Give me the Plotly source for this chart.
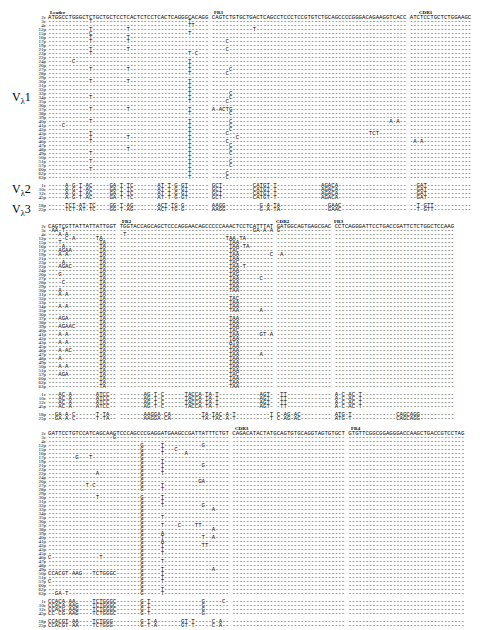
import plotly.graph_objects as go

# row names (same order in every block)
rows = ["2c", "3c", "4c", "12p", "15p", "16p", "17p", "19p", "21p", "23p", "22p", "24p",
        "26p", "27p", "28p", "29p", "30p", "31p", "32p", "33p", "34p", "35p", "36p",
        "37p", "38p", "39p", "40p", "41p", "42p", "43p", "45p", "46p", "47p", "48p",
        "49p", "50p", "51p", "57p", "60p", "62p", "63p", "", "1c", "10c", "12c", "45p",
        "", "18p", "25p"]

# consensus lines of each block
ref1 = ("ATGGCCTGGGCTCTGCTGCTCCTCACTCTCCTCACTCAGGGCACAGG CAGTCTGTGCTGACTCAGCCTCCCTCCGTGTCTGCAGCCCCGGGACAGAAGGTCACC ATCTCCTGCTCTGGAAGC")
ref2 = ("CAGTCGTTATTATTATTGGT TGGTACCAGCAGCTCCCAGGAACAGCCCCCAAACTCCTCATTTAT GATGGCAGTGAGCGAC CCTCAGGGATTCCTGACCGATTCTCTGGCTCCAAG")
ref3 = ("GATTCCTGTCCATCAGCAAGTCCCAGCCCGAGGATGAAGCCGATTATTTCTGT CAGACATACTATGCAGTGTGCAGGTAGTGTGCT GTGTTCGGCGGAGGGACCAAGCTGACCGTCCTAG")
refs = [ref1, ref2, ref3]

# substitutions per row: "column:letters"
muts1 = ["", "12:T 41:T", "41:TT", "12:T 23:T 60:T", "12:C 41:T", "12:T 23:T", "12:T 23:T 52:C",
         "", "12:T 23:T 52:C", "12:T 41:T 43:C", "", "7:C 41:T", "41:T", "12:T 23:T 41:T 53:C",
         "41:T 52:C", "", "12:T 23:T 41:T", "41:T", "41:T", "41:T 53:C", "12:T 41:T 53:C",
         "41:T 52:C", "", "12:T 23:T 41:T 48:A-ACTG", "41:T 53:C", "", "12:T 41:T 53:C 100:A-A",
         "4:C 41:T 53:C", "41:T 53:C", "12:T 41:T 52:C 94:TCT", "12:T 23:T 41:T 55:C",
         "12:T 41:T 52:C 105:C-A-A", "41:T 53:C", "23:T 41:T 53:C", "12:T 41:T 53:C", "41:T",
         "12:T 41:T 53:C", "41:T 53:C", "12:T 41:T", "41:T 52:C", "41:T 52:C", "",
         "5:A-G-T-AC 18:GA-T-TC 32:AT-T-G-GT 48:GCT 60:CATGT-T 80:AGACA 108:GAT",
         "5:A-G-T-AC 18:GA-T-TC 32:AT-T-G-GT 48:GCT 60:CATGT-T 80:AGACA 108:GAT",
         "5:A-G-T-AC 18:GA-T-TC 32:AT-T-G-GT 48:GCT 60:CATGT-T 80:AGACA 108:GAT",
         "5:A-G-T-AC 18:GA-T-TC 32:AT-T-G-GT 48:GCT 60:CATGT-T 80:AGACA 108:GAT", "",
         "5:TCT-AT-TC 18:GG-T-AG 32:ACT-TG-G 48:AAGG 62:G-A-TA 82:GAAC 108:T-GTT",
         "5:TCT-AT-TC 18:GG-T-AG 32:ACT-TG-G 48:AAGG 62:G-A-TA 82:GAAC 108:T-GTT"]
muts2 = ["", "1:AA-T 60:GA-A-AGG", "3:A-A 22:T", "5:C-A 14:TA 52:TAA-TA", "3:T 15:TA 53:TAA",
         "4:A 15:TA 53:TAA-TA", "3:AGAA 15:TA 53:TAC", "3:A-A 15:TA 53:TAA 65:CT-A", "15:TA 53:TAA",
         "4:A 15:TA 53:TAC", "3:AGAC 15:TA 53:TAA-T", "15:TA 53:TAA", "3:G 15:TA 53:TAG",
         "15:TA 53:TAA 62:C", "4:C 15:TA 53:TAA", "15:TA 53:TAA", "3:A 15:TA 53:TAA", "3:A-A 15:TA",
         "15:TA 53:TAC", "15:TA 53:TAA", "3:A-A 15:TA 53:TAA", "15:TA 53:TAA 62:A", "15:TA",
         "3:AGA 15:TA 53:TAA", "15:TA 53:TAA", "3:AGAAC 15:TA 53:TAA", "15:TA 53:TAC",
         "3:A-A 15:TA 53:TAA 62:GT-A", "15:TA 53:TAA", "3:A-A 15:TA 53:ATA", "15:TA 53:TAA",
         "3:A-AC 15:TA 53:TAA", "15:TA 53:TAA 62:A", "3:A 15:TA 53:TAA", "15:TA 53:TAA",
         "3:A-A 15:TA 53:TAA", "15:TA 53:TAA", "3:AGA 15:TA 53:TAC", "15:TA 53:TAA",
         "15:TA 53:TAA", "15:TA 53:TAA", "",
         "3:AC-A 14:ATCC 28:AG-T-C 40:TACCA-TA-T 62:AGT-A-TT 84:A-C-AC-T",
         "3:AC-A 14:ATCC 28:AG-T-C 40:TACCA-TA-T 62:AGT-A-TT 84:A-C-AC-T",
         "3:AC-A 14:ATCC 28:AG-T-C 40:TACCA-TA-T 62:AGT-A-TT 84:A-C-AC-T",
         "3:AC-A 14:ATCC 28:AG-T-C 40:TACCA-TA-T 62:AGT-A-TT 84:A-C-AC-T", "",
         "2:GA-A-C 14:T-TA 28:AAGGA-CA 45:TA-TAC-A-T 65:TAC-AG-AC 84:ATG-T 102:CAGCAGG",
         "2:GA-A-C 14:T-TA 28:AAGGA-CA 45:TA-TAC-A-T 65:TAC-AG-AC 84:ATG-T 102:CAGCAGG"]
muts3 = ["", "19:G", "", "27:G 33:T 45:G", "27:G 33:T 37:C", "27:G 33:T 40:A", "8:G 12:T 27:G",
         "27:G 33:T", "27:G 33:T 45:G", "27:G 33:T", "14:A 27:G 33:T", "27:G", "27:G 44:GA",
         "11:T-C 27:G 33:T", "27:G 33:T", "", "14:T 27:G 33:T", "27:G 33:T", "27:G 33:T 45:G",
         "27:G 48:A", "27:G", "27:G 33:T", "27:G", "27:G 33:T 38:C 43:TT", "27:G 48:A",
         "27:G 33:A", "27:G 33:T 45:T 48:A", "27:G 33:A", "27:G 33:T 45:TT", "27:G 33:T",
         "27:G 33:T", "0:C 15:T 27:G", "27:G 33:T", "27:G", "27:G 33:T 48:A",
         "0:CCACGT-AAG 13:TCTGGGC 27:G 33:T", "27:G 33:T", "0:C 27:G 33:T", "27:G", "27:G 33:T",
         "2:GA-T 27:G 33:T", "",
         "0:CCACA-AA 13:TCTGGGC 27:G-T 45:G 51:C", "0:CCACA-AAG 13:TCTGGGC 27:G-T 45:G",
         "0:CCACG-AAG 13:TCTGGGC 27:G-T 45:G", "0:CC-CG-AAG 13:TCTGGGC 27:G-T 45:G", "",
         "0:CCACGT-AA 13:TCTGGG 27:G-T-A 39:GT-T 48:C-A",
         "0:CCACGT-AA 13:TCTGGG 27:G-T-A 39:GT-T 48:C-A"]
muts = [muts1, muts2, muts3]

headers = [[("Leader", 0), ("FR1", 48), ("CDR1", 108)],
           [("FR2", 21), ("CDR2", 66), ("FR3", 83)],
           [("CDR3", 54), ("FR4", 88)]]
families = [("V<sub>λ</sub>1", 20), ("V<sub>λ</sub>2", 43), ("V<sub>λ</sub>3", 48)]
classes = ["I", "I", "II", "I", "II", "I", "I", "II", "I", "I", "II", "I", "I", "I", "II", "I",
           "I", "I", "II", "I", "I", "I", "II", "I", "I", "II", "I", "I", "II", "I", "I", "II",
           "I", "I", "I", "II", "I", "I", "II", "I", "I", "", "II", "II", "II", "III", "",
           "V", "V"]

block_top = [3, 212, 419]
row_h = 4.0
first_off = 7
x0 = 40
cw = 3.42


def build(ref, spec, first):
    if first:
        return ref
    line = ["-" if c != " " else " " for c in ref]
    for item in spec.split():
        col, letters = item.split(":")
        for k, ch in enumerate(letters):
            p = int(col) + k
            if p < len(line) and line[p] != " ":
                line[p] = ch
    return "".join(line)


fig = go.Figure()
for b in range(3):
    xs, ys, texts = [], [], []
    lx, ly, lt = [], [], []
    for i, name in enumerate(rows):
        if name == "":
            continue
        y = block_top[b] + first_off + i * row_h
        xs.append(x0)
        ys.append(y)
        texts.append(build(refs[b], muts[b][i], i == 0))
        lx.append(x0 - 2)
        ly.append(y)
        lt.append(name)
    fig.add_trace(go.Scatter(x=xs, y=ys, text=texts, mode="text", textposition="middle right",
                             textfont=dict(family="Liberation Mono", size=5.7, color="black"),
                             hoverinfo="skip", showlegend=False))
    fig.add_trace(go.Scatter(x=lx, y=ly, text=lt, mode="text", textposition="middle left",
                             textfont=dict(family="Liberation Serif", size=5, color="black"),
                             hoverinfo="skip", showlegend=False))
    for h, col in headers[b]:
        fig.add_annotation(x=x0 + col * cw, y=block_top[b] + 1.5, text="<b>" + h + "</b>",
                           showarrow=False, xanchor="left", yanchor="middle",
                           font=dict(family="Liberation Serif", size=5, color="black"))

for label, r in families:
    fig.add_annotation(x=2, y=block_top[0] + first_off + r * row_h, text=label, showarrow=False,
                       xanchor="left", font=dict(family="Liberation Serif", size=12, color="black"))

cy = [block_top[2] + first_off + i * row_h for i, c in enumerate(classes) if c]
fig.add_trace(go.Scatter(x=[472] * len(cy), y=cy, text=[c for c in classes if c], mode="text",
                         textfont=dict(family="Liberation Serif", size=5, color="black"),
                         hoverinfo="skip", showlegend=False))

fig.update_layout(width=485, height=630, margin=dict(l=0, r=0, t=0, b=0),
                  plot_bgcolor="white", paper_bgcolor="white",
                  xaxis=dict(range=[0, 485], visible=False),
                  yaxis=dict(range=[630, 0], visible=False))
fig.write_html("out.html")
